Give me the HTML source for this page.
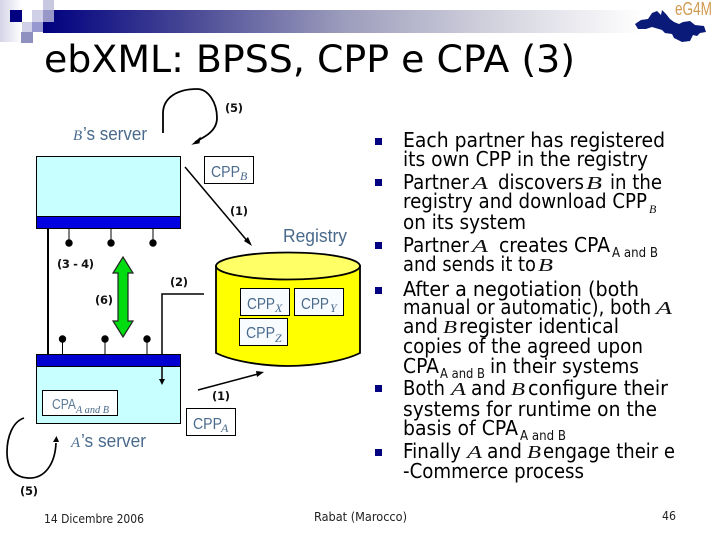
<!DOCTYPE html>
<html><head><meta charset="utf-8"><style>
html,body{margin:0;padding:0;background:#fff;width:720px;height:540px;overflow:hidden}
svg{display:block}
.b{font-family:"DejaVu Sans","Liberation Sans",sans-serif;font-size:20px;fill:#000}
.s{font-family:"DejaVu Sans","Liberation Sans",sans-serif;font-size:13px;fill:#111}
.l{font-family:"Liberation Sans",sans-serif;font-size:18px;fill:#4a6a8c}
.i{font-family:"Liberation Serif",serif;font-style:italic;font-size:12px;fill:#4a6a8c}
.n{font-family:"DejaVu Sans",sans-serif;font-weight:bold;font-size:11.5px;fill:#111}
.f{font-family:"DejaVu Sans",sans-serif;font-size:12px;fill:#222}
.m{font-family:"Liberation Serif",serif;font-style:italic;font-size:18px;fill:#111}
</style></head><body>
<svg width="720" height="540" viewBox="0 0 720 540" xmlns="http://www.w3.org/2000/svg">
<defs>
<linearGradient id="g" x1="0" x2="1" y1="0" y2="0"><stop offset="0" stop-color="#000080"/><stop offset=".25" stop-color="#4a4a96"/><stop offset=".5" stop-color="#9c9cbc"/><stop offset=".75" stop-color="#d2d2de"/><stop offset="1" stop-color="#ffffff"/></linearGradient>
<linearGradient id="h" x1="0" x2="1" y1="0" y2="0"><stop offset="0" stop-color="#d4d4e8"/><stop offset="1" stop-color="#ffffff"/></linearGradient>
</defs>
<rect x="43" y="10" width="600" height="23" fill="url(#g)"/>
<rect x="0" y="0" width="22" height="42" fill="url(#h)"/>
<rect x="43" y="0" width="11" height="10" fill="#c8c8e0"/>
<rect x="32" y="10" width="11" height="12" fill="#d0d0e8"/>
<rect x="43" y="10" width="11" height="12" fill="#9898c8"/>
<rect x="22" y="22" width="10" height="10" fill="#d0d0e8"/>
<rect x="32" y="22" width="11" height="10" fill="#9898d0"/>
<rect x="21" y="32" width="12" height="11" fill="#9090c0"/>
<rect x="10" y="10" width="12" height="12" fill="#000080"/>

<!-- logo -->
<path d="M635 24 L641 20 L648 19 L652 13 L657 11 L661 15 L662 10 L666 14 L670 19 L674 22 L679 24 L683 22 L690 21 L695 25 L704 26 L706 32 L700 33 L697 36 L693 35 L690 41 L682 42 L674 38 L672 34 L665 33 L662 30 L652 27 L646 29 L638 29 Z" fill="#0a1a78"/>
<text x="675" y="15" font-family="Liberation Sans,sans-serif" font-size="18" fill="#d09a50" textLength="37" lengthAdjust="spacingAndGlyphs">eG4M</text>

<text x="44" y="72" font-family="DejaVu Sans,sans-serif" font-size="37" fill="#000" textLength="531" lengthAdjust="spacingAndGlyphs">ebXML: BPSS, CPP e CPA (3)</text>

<!-- top curve -->
<path d="M163 133 L163 112 C164 97 178 89 197 89 C208 89 217 102 217 118 C217 130 207 136 195 142" fill="none" stroke="#000" stroke-width="1.8"/>
<path d="M193 144 L200 138 L199 143 Z" fill="#000" stroke="#000"/>
<text class="n" x="225" y="112" textLength="18">(5)</text>
<text class="i" x="73" y="140" style="font-size:15px">B</text>
<text class="l" x="83" y="140" textLength="64" lengthAdjust="spacingAndGlyphs">’s server</text>

<!-- server B -->
<rect x="36.500" y="156.500" width="144" height="72" fill="#c8ffff" stroke="#000"/>
<rect x="36.500" y="216.500" width="144" height="12" fill="#0000e0" stroke="#000"/>
<g stroke="#000" stroke-width="1"><path d="M69 228V243M111 228V243M153 228V243"/></g>
<g fill="#000"><circle cx="69" cy="243" r="3.700"/><circle cx="111" cy="243" r="3.700"/><circle cx="153" cy="243" r="3.700"/></g>
<rect x="204.500" y="156.500" width="49" height="27" fill="#fff" stroke="#000"/>
<text class="l" x="211" y="177" textLength="29" lengthAdjust="spacingAndGlyphs" style="font-size:16px">CPP</text><text class="i" x="240" y="180">B</text>
<path d="M185 167 L249 243" stroke="#000" stroke-width="1.500"/>
<path d="M252 246 L244 241 L248 237 Z" fill="#000"/>
<text class="n" x="230" y="215" textLength="18">(1)</text>
<text class="l" x="283" y="242" textLength="64" lengthAdjust="spacingAndGlyphs">Registry</text>

<!-- cylinder -->
<path d="M216 266 V353 C232 361 262 366 288 366 C314 366 344 361 360 353 V266 Z" fill="#ffff00" stroke="#000" stroke-width="1.800"/>
<ellipse cx="288" cy="266" rx="72" ry="13.500" fill="#ffff66" stroke="#000" stroke-width="1.800"/>
<rect x="240.500" y="288.500" width="49" height="27" fill="#f8fcff" stroke="#000"/>
<text class="l" x="247" y="309" textLength="28" lengthAdjust="spacingAndGlyphs" style="font-size:16px">CPP</text><text class="i" x="275" y="312">X</text>
<rect x="294.500" y="288.500" width="49" height="27" fill="#f8fcff" stroke="#000"/>
<text class="l" x="301" y="309" textLength="28" lengthAdjust="spacingAndGlyphs" style="font-size:16px">CPP</text><text class="i" x="330" y="312">Y</text>
<rect x="239.500" y="318.500" width="48" height="27" fill="#f8fcff" stroke="#000"/>
<text class="l" x="246" y="338" textLength="29" lengthAdjust="spacingAndGlyphs" style="font-size:16px">CPP</text><text class="i" x="275" y="342">Z</text>

<!-- connectors -->
<path d="M48 228 V354" stroke="#000" stroke-width="2"/>
<text class="n" x="57" y="268" textLength="37">(3 - 4)</text>
<path d="M123 257 L133 273 L128 273 L128 321 L133 321 L123 337 L113 321 L118 321 L118 273 L113 273 Z" fill="#00dc10" stroke="#222" stroke-width="1.200"/>
<text class="n" x="95" y="304" textLength="18">(6)</text>
<text class="n" x="170" y="286" textLength="18">(2)</text>
<path d="M204 294 H162 V354" fill="none" stroke="#000" stroke-width="1.500"/>

<!-- server A -->
<rect x="36.500" y="354.500" width="144" height="69" fill="#c8ffff" stroke="#000"/>
<rect x="36.500" y="354.500" width="144" height="12" fill="#0000d0" stroke="#000"/>
<path d="M162 366 V379" stroke="#000" stroke-width="1.500"/>
<path d="M159 379 H165 L162 385 Z" fill="#000"/>
<g stroke="#000"><path d="M62.500 339V354M105 339V354M147 339V354"/></g>
<g fill="#000"><circle cx="62.500" cy="339" r="3.700"/><circle cx="105" cy="339" r="3.700"/><circle cx="147" cy="339" r="3.700"/></g>
<rect x="42.500" y="390.500" width="75" height="25" fill="#fff" stroke="#000"/>
<text class="l" x="52" y="409" textLength="24" lengthAdjust="spacingAndGlyphs" style="font-size:15px;fill:#5d7a96">CPA</text><text class="i" x="76" y="413" textLength="33" lengthAdjust="spacingAndGlyphs" style="font-size:10px">A and B</text>
<text class="i" x="71" y="447" style="font-size:15px">A</text>
<text class="l" x="81" y="447" textLength="65" lengthAdjust="spacingAndGlyphs">’s server</text>
<path d="M198 390 L258 374" stroke="#000" stroke-width="1.500"/>
<path d="M264 372 L256 371 L257 377 Z" fill="#000"/>
<text class="n" x="212" y="400" textLength="18">(1)</text>
<rect x="186.500" y="408.500" width="49" height="27" fill="#fff" stroke="#000"/>
<text class="l" x="193" y="429" textLength="29" lengthAdjust="spacingAndGlyphs" style="font-size:16px">CPP</text><text class="i" x="221" y="432">A</text>

<!-- bottom curve -->
<path d="M24 418 C12 422 7 438 7 452 C7 468 14 477 28 478 C44 479 55 465 56 443" fill="none" stroke="#000" stroke-width="1.700"/>
<path d="M53 442 H59 L56.500 436 Z" fill="#000"/>
<text class="n" x="20" y="495" textLength="18">(5)</text>

<!-- bullets -->
<g fill="#000080">
<rect x="375" y="138" width="7" height="7"/><rect x="375" y="179" width="7" height="7"/><rect x="375" y="242" width="7" height="7"/>
<rect x="375" y="287" width="7" height="7"/><rect x="375" y="385" width="7" height="7"/><rect x="375" y="449" width="7" height="7"/>
</g>

<text class="b" x="403" y="147" textLength="262" lengthAdjust="spacingAndGlyphs">Each partner has registered</text>
<text class="b" x="403" y="166" textLength="245" lengthAdjust="spacingAndGlyphs">its own CPP in the registry</text>
<text class="b" x="403" y="189" textLength="66" lengthAdjust="spacingAndGlyphs">Partner</text><text class="m" x="472" y="189" textLength="16" lengthAdjust="spacingAndGlyphs">A</text>
<text class="b" x="498" y="189" textLength="86" lengthAdjust="spacingAndGlyphs">discovers</text><text class="m" x="586" y="189" textLength="16" lengthAdjust="spacingAndGlyphs">B</text>
<text class="b" x="610" y="189" textLength="52" lengthAdjust="spacingAndGlyphs">in the</text>
<text class="b" x="403" y="208" textLength="244" lengthAdjust="spacingAndGlyphs">registry and download CPP</text><text class="i" x="649" y="213" style="fill:#111">B</text>
<text class="b" x="403" y="229" textLength="123" lengthAdjust="spacingAndGlyphs">on its system</text>
<text class="b" x="403" y="252" textLength="66" lengthAdjust="spacingAndGlyphs">Partner</text><text class="m" x="472" y="252" textLength="16" lengthAdjust="spacingAndGlyphs">A</text>
<text class="b" x="499" y="252" textLength="111" lengthAdjust="spacingAndGlyphs">creates CPA</text><text class="s" x="612" y="257" textLength="46" lengthAdjust="spacingAndGlyphs">A and B</text>
<text class="b" x="403" y="271" textLength="133" lengthAdjust="spacingAndGlyphs">and sends it to</text><text class="m" x="538" y="271" textLength="15" lengthAdjust="spacingAndGlyphs">B</text>
<text class="b" x="403" y="296" textLength="236" lengthAdjust="spacingAndGlyphs">After a negotiation (both</text>
<text class="b" x="403" y="314" textLength="248" lengthAdjust="spacingAndGlyphs">manual or automatic), both</text><text class="m" x="656" y="314" textLength="16" lengthAdjust="spacingAndGlyphs">A</text>
<text class="b" x="403" y="333" textLength="35" lengthAdjust="spacingAndGlyphs">and</text><text class="m" x="443" y="333" textLength="14" lengthAdjust="spacingAndGlyphs">B</text>
<text class="b" x="459" y="333" textLength="160" lengthAdjust="spacingAndGlyphs">register identical</text>
<text class="b" x="403" y="353" textLength="240" lengthAdjust="spacingAndGlyphs">copies of the agreed upon</text>
<text class="b" x="403" y="373" textLength="36" lengthAdjust="spacingAndGlyphs">CPA</text><text class="s" x="440" y="378" textLength="45" lengthAdjust="spacingAndGlyphs">A and B</text>
<text class="b" x="490" y="373" textLength="149" lengthAdjust="spacingAndGlyphs">in their systems</text>
<text class="b" x="403" y="395" textLength="42" lengthAdjust="spacingAndGlyphs">Both</text><text class="m" x="451" y="395" textLength="15" lengthAdjust="spacingAndGlyphs">A</text>
<text class="b" x="471" y="395" textLength="35" lengthAdjust="spacingAndGlyphs">and</text><text class="m" x="511" y="395" textLength="14" lengthAdjust="spacingAndGlyphs">B</text>
<text class="b" x="528" y="395" textLength="140" lengthAdjust="spacingAndGlyphs">configure their</text>
<text class="b" x="403" y="416" textLength="254" lengthAdjust="spacingAndGlyphs">systems for runtime on the</text>
<text class="b" x="403" y="435" textLength="115" lengthAdjust="spacingAndGlyphs">basis of CPA</text><text class="s" x="520" y="440" textLength="46" lengthAdjust="spacingAndGlyphs">A and B</text>
<text class="b" x="403" y="458" textLength="58" lengthAdjust="spacingAndGlyphs">Finally</text><text class="m" x="467" y="458" textLength="15" lengthAdjust="spacingAndGlyphs">A</text>
<text class="b" x="487" y="458" textLength="35" lengthAdjust="spacingAndGlyphs">and</text><text class="m" x="527" y="458" textLength="14" lengthAdjust="spacingAndGlyphs">B</text>
<text class="b" x="543" y="458" textLength="132" lengthAdjust="spacingAndGlyphs">engage their e</text>
<text class="b" x="403" y="478" textLength="181" lengthAdjust="spacingAndGlyphs">-Commerce process</text>

<text class="f" x="44" y="523" textLength="100" lengthAdjust="spacingAndGlyphs">14 Dicembre 2006</text>
<text class="f" x="314" y="521" textLength="93" lengthAdjust="spacingAndGlyphs">Rabat (Marocco)</text>
<text class="f" x="662" y="520" textLength="14" lengthAdjust="spacingAndGlyphs">46</text>
</svg>
</body></html>
